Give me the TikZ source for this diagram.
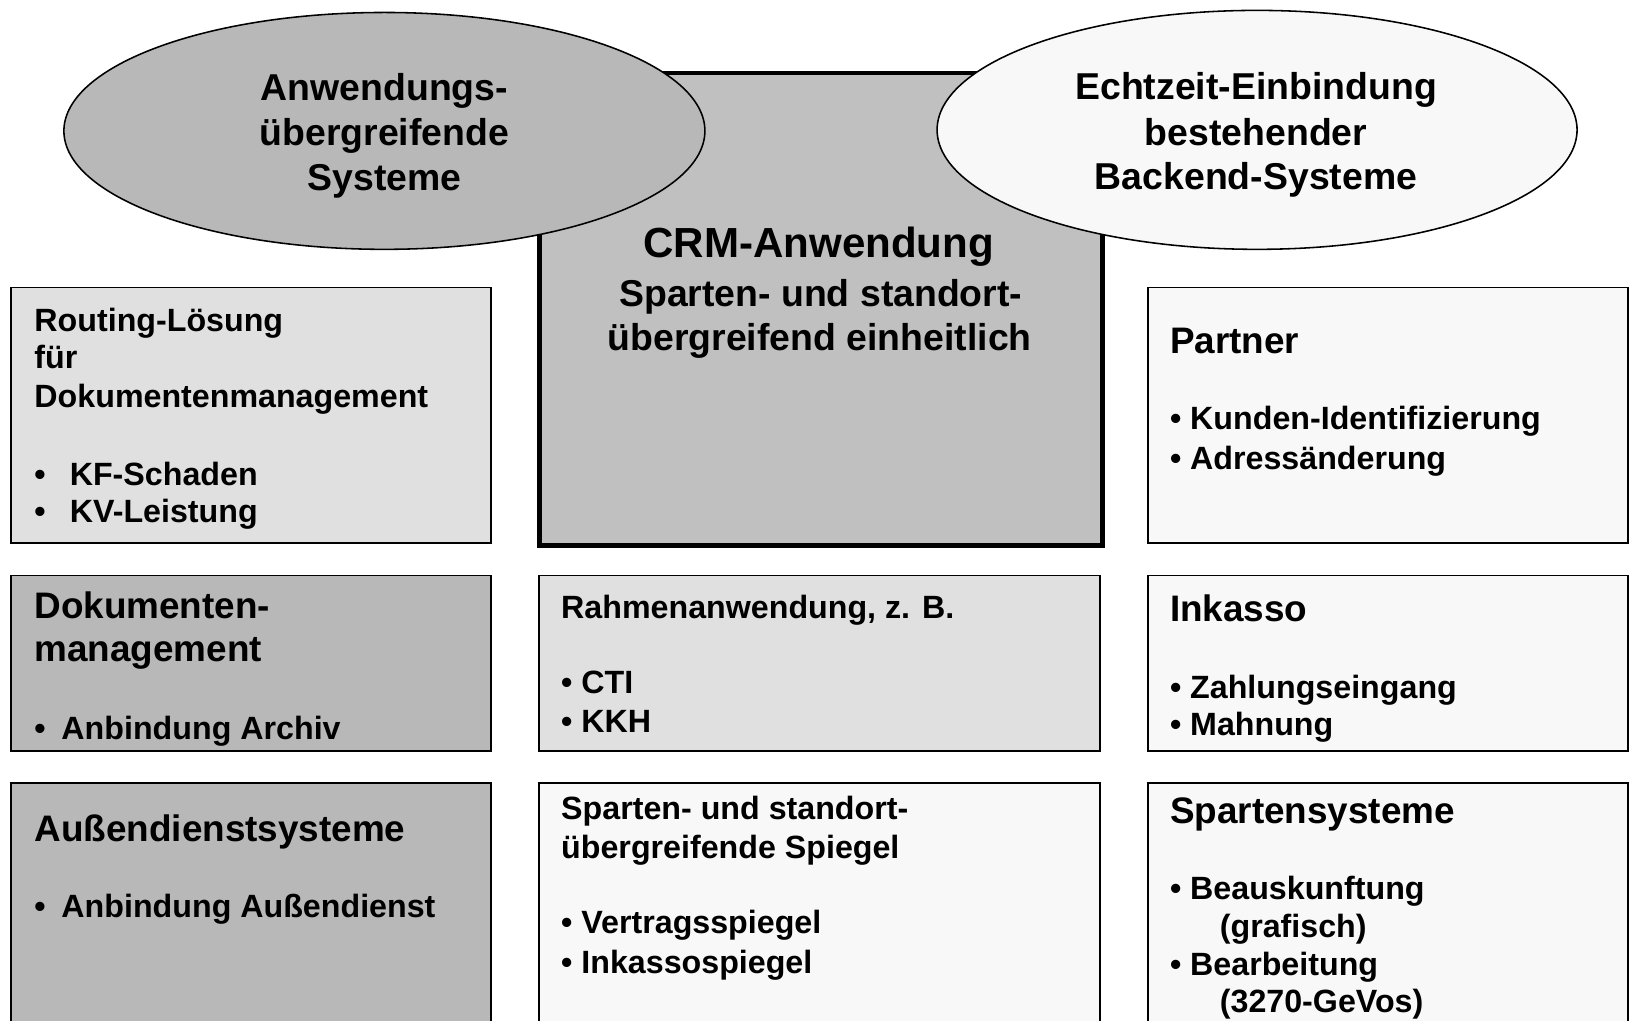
\documentclass[tikz,border=0pt]{standalone}
\usepackage{fontspec}
\setmainfont{Liberation Sans}
\usetikzlibrary{shapes.geometric}
\definecolor{dgray}{HTML}{B8B8B8}
\definecolor{cgray}{HTML}{C0C0C0}
\definecolor{lgray}{HTML}{E0E0E0}
\definecolor{wgray}{HTML}{F8F8F8}
\begin{document}
\begin{tikzpicture}[x=1pt,y=-1pt,
  box/.style={draw=black, line width=1.5pt, rectangle, anchor=north west, inner sep=0pt},
  oval/.style={draw=black, line width=1.5pt, ellipse, inner sep=0pt},
  txt/.style={anchor=base west, inner sep=0pt, font=\bfseries\fontsize{31}{37}\selectfont},
  ttl/.style={anchor=base west, inner sep=0pt, font=\bfseries\fontsize{35.5}{42}\selectfont},
  ctr/.style={anchor=base, inner sep=0pt, font=\bfseries\fontsize{36}{43}\selectfont},
]
\clip (0,0) rectangle (1568,982);
\fill[white] (0,0) rectangle (1568,982);

% central CRM box
\node[box, line width=4.5pt, fill=cgray, minimum width=542pt, minimum height=455pt] (crm) at (517,68) {};

% ellipses
\node[oval, fill=dgray, minimum width=617pt, minimum height=228pt] (ell1) at (370,126) {};
\node[oval, fill=wgray, minimum width=616pt, minimum height=230pt] (ell2) at (1210,125) {};

% boxes
\node[box, fill=lgray, minimum width=462pt, minimum height=246pt] (routing) at (10,276) {};
\node[box, fill=wgray, minimum width=462pt, minimum height=246pt] (partner) at (1104,276) {};
\node[box, fill=dgray, minimum width=462pt, minimum height=169pt] (dok) at (10,553) {};
\node[box, fill=lgray, minimum width=540pt, minimum height=169pt] (rahmen) at (518,553) {};
\node[box, fill=wgray, minimum width=462pt, minimum height=169pt] (inkasso) at (1104,553) {};
\node[box, fill=dgray, minimum width=462pt, minimum height=260pt] (aussen) at (10,753) {};
\node[box, fill=wgray, minimum width=540pt, minimum height=260pt] (spiegel) at (518,753) {};
\node[box, fill=wgray, minimum width=462pt, minimum height=260pt] (sparten) at (1104,753) {};

% ellipse texts
\node[ctr] (e1a) at (370,97) {Anwendungs-};
\node[ctr] (e1b) at (370,140) {übergreifende};
\node[ctr] (e1c) at (370,183) {Systeme};
\node[ctr] (e2a) at (1209,96) {Echtzeit-Einbindung};
\node[ctr] (e2b) at (1209,140) {bestehender};
\node[ctr] (e2c) at (1209,182) {Backend-Systeme};

% CRM texts
\node[ctr, font=\bfseries\fontsize{40.5}{46}\selectfont] (c1) at (788,248) {CRM-Anwendung};
\node[ctr] (c2) at (790,295) {Sparten- und standort-};
\node[ctr] (c3) at (789,337) {übergreifend einheitlich};

% Routing
\node[txt] (r1) at (33,319) {Routing-Lösung};
\node[txt] (r2) at (33,355) {für};
\node[txt] (r3) at (33,392) {Dokumentenmanagement};
\node[txt] (r4) at (33,467) {\makebox[34pt][l]{•}KF-Schaden};
\node[txt] (r5) at (33,503) {\makebox[34pt][l]{•}KV-Leistung};

% Partner
\node[ttl] (p1) at (1126,340) {Partner};
\node[txt] (p2) at (1126,413) {• Kunden-Identifizierung};
\node[txt] (p3) at (1126,452) {• Adressänderung};

% Dokumentenmanagement
\node[ttl] (d1) at (33,595) {Dokumenten-};
\node[ttl] (d2) at (33,637) {management};
\node[txt] (d3) at (33,712) {\makebox[26pt][l]{•}Anbindung Archiv};

% Rahmen
\node[txt] (ra1) at (540,595) {Rahmenanwendung, z. B.};
\node[txt] (ra2) at (540,668) {• CTI};
\node[txt] (ra3) at (540,705) {• KKH};

% Inkasso
\node[ttl] (i1) at (1126,598) {Inkasso};
\node[txt] (i2) at (1126,672) {• Zahlungseingang};
\node[txt] (i3) at (1126,708) {• Mahnung};

% Aussendienst
\node[ttl] (a1) at (33,810) {Außendienstsysteme};
\node[txt] (a2) at (33,883) {\makebox[26pt][l]{•}Anbindung Außendienst};

% Spiegel
\node[txt] (s1) at (540,789) {Sparten- und standort-};
\node[txt] (s2) at (540,826) {übergreifende Spiegel};
\node[txt] (s3) at (540,899) {• Vertragsspiegel};
\node[txt] (s4) at (540,937) {• Inkassospiegel};

% Spartensysteme
\node[ttl] (sp1) at (1126,793) {Spartensysteme};
\node[txt] (sp2) at (1126,866) {• Beauskunftung};
\node[txt] (sp3) at (1174,902) {(grafisch)};
\node[txt] (sp4) at (1126,939) {• Bearbeitung};
\node[txt] (sp5) at (1174,975) {(3270-GeVos)};
\end{tikzpicture}
\end{document}
